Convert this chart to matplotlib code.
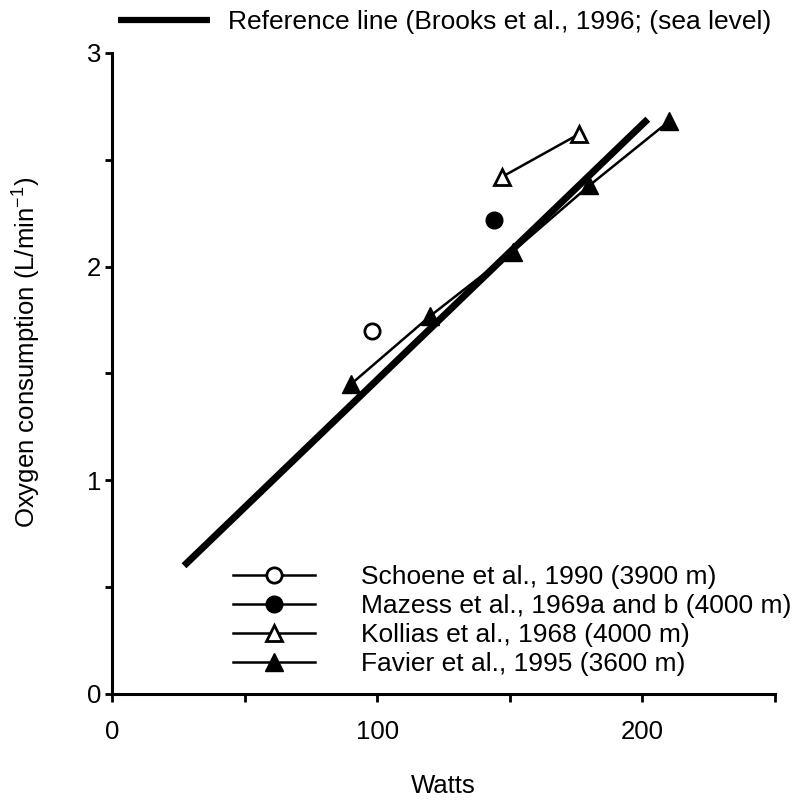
import matplotlib
matplotlib.use('Agg')
import matplotlib.pyplot as plt
from matplotlib.lines import Line2D

plt.rcParams['font.family'] = ['Liberation Sans', 'DejaVu Sans']
plt.rcParams['mathtext.fontset'] = 'custom'
plt.rcParams['mathtext.rm'] = 'Liberation Sans'
plt.rcParams['mathtext.default'] = 'regular'

# 参考线 (Brooks et al., 1996; sea level)
ref_watts = [27, 202]
ref_vo2 = [0.60, 2.69]

# 高原数据
schoene_watts = [98]
schoene_vo2 = [1.70]
mazess_watts = [144]
mazess_vo2 = [2.22]
kollias_watts = [147, 176]
kollias_vo2 = [2.42, 2.62]
favier_watts = [90, 120, 151, 180, 210]
favier_vo2 = [1.45, 1.77, 2.07, 2.38, 2.68]

x_major = [0, 100, 200]
x_minor = [50, 150, 250]
y_major = [0, 1, 2, 3]
y_minor = [0.5, 1.5, 2.5]

FS = 18.5
LEG_FS = 19
fig = plt.figure(figsize=(7.96, 8.02), dpi=100)
ax = fig.add_axes([0.1413, 0.1347, 0.8323, 0.7993])

ref, = ax.plot(ref_watts, ref_vo2, color='black', linewidth=5,
               solid_capstyle='butt', zorder=3)
l1, = ax.plot(schoene_watts, schoene_vo2, '-o', color='black', lw=1.8,
              markersize=11, markerfacecolor='white', markeredgewidth=2)
l2, = ax.plot(mazess_watts, mazess_vo2, '-o', color='black', lw=1.8,
              markersize=12, markerfacecolor='black')
l3, = ax.plot(kollias_watts, kollias_vo2, '-^', color='black', lw=1.8,
              markersize=12, markerfacecolor='white', markeredgewidth=2)
l4, = ax.plot(favier_watts, favier_vo2, '-^', color='black', lw=1.8,
              markersize=13.5, markerfacecolor='black')

ax.set_xlim(0, 250)
ax.set_ylim(0, 3)
for s in ['top', 'right']:
    ax.spines[s].set_visible(False)
for s in ['left', 'bottom']:
    ax.spines[s].set_linewidth(2.2)

ax.set_xticks(x_major)
ax.set_xticks(x_minor, minor=True)
ax.set_yticks(y_major)
ax.set_yticks(y_minor, minor=True)
ax.tick_params(axis='x', which='both', length=6, width=2, pad=13,
               labelsize=FS, direction='out')
ax.tick_params(axis='y', which='both', length=5, width=2, pad=3,
               labelsize=FS, direction='out')

ax.set_xlabel('Watts', fontsize=FS)
ax.xaxis.set_label_coords(0.5, -0.125)
ax.set_ylabel('Oxygen consumption (L/min$^{-1}$)', fontsize=FS)
ax.yaxis.set_label_coords(-0.105, 0.532)

leg = ax.legend([l1, l2, l3, l4],
                ['Schoene et al., 1990 (3900 m)',
                 'Mazess et al., 1969a and b (4000 m)',
                 'Kollias et al., 1968 (4000 m)',
                 'Favier et al., 1995 (3600 m)'],
                loc='upper left', bbox_to_anchor=(0.182, 0.201),
                frameon=False, fontsize=LEG_FS, handlelength=3.1,
                handletextpad=1.75, labelspacing=0.19, borderpad=0,
                borderaxespad=0, numpoints=1)

fig.legend([Line2D([], [], color='black', lw=4.5, solid_capstyle='butt')],
           ['Reference line (Brooks et al., 1996; (sea level)'],
           loc='center left', bbox_to_anchor=(0.148, 0.9726), frameon=False,
           fontsize=LEG_FS, handlelength=3.48, handletextpad=0.68, borderpad=0,
           borderaxespad=0)

fig.savefig('out.png', dpi=100, facecolor='white')
